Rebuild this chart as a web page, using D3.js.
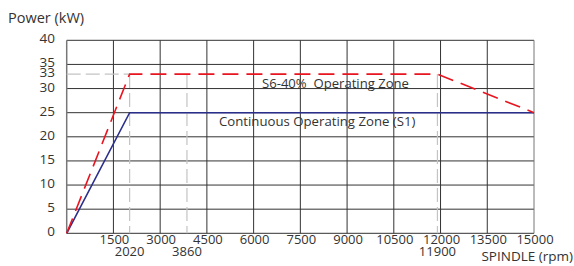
<!DOCTYPE html>
<html><head><meta charset="utf-8">
<script src="https://cdn.jsdelivr.net/npm/d3@7"></script>
<style>body{margin:0;background:#fff}text{font-family:"Open Sans",sans-serif;fill:#333}</style>
</head><body><svg id="c" width="574" height="266"></svg>
<script>
const xTicks = [1500,3000,4500,6000,7500,9000,10500,12000,13500,15000];
const xTicks2 = [2020,3860,11900];
const yTicks = [0,5,10,15,20,25,30,35,40];
const yExtra = [33];
const s6Rpm = [0,2020,11900,15000];
const s6Power = [0,33,33,25];
const s1Rpm = [0,2020,15000];
const s1Power = [0,25,25];
const refRpm = [2020,3860,11900];
const refPower = 33;

const svg = d3.select("#c");
const x = d3.scaleLinear().domain([0,15000]).range([66.7,534]);
const y = d3.scaleLinear().domain([0,40]).range([233.3,40.3]);
const grid = "#333";

svg.append("g").selectAll("line").data(yTicks).join("line")
  .attr("x1",x(0)).attr("x2",x(15000)).attr("y1",d=>y(d)).attr("y2",d=>y(d))
  .attr("stroke",grid).attr("stroke-width",1);
svg.append("g").selectAll("line").data([0,...xTicks]).join("line")
  .attr("x1",d=>x(d)).attr("x2",d=>x(d)).attr("y1",y(0)).attr("y2",y(40))
  .attr("stroke",d=>d===0||d===15000?"#777":grid).attr("stroke-width",d=>d===0?1.5:1);

const ref = svg.append("g").attr("stroke","#c4c4c4").attr("stroke-width",1.2).attr("stroke-dasharray","14,5").attr("fill","none");
ref.append("line").attr("x1",x(0)).attr("x2",x(refRpm[0])).attr("y1",y(refPower)).attr("y2",y(refPower));
ref.selectAll(".v").data(refRpm).join("line").attr("class","v")
  .attr("x1",d=>x(d)).attr("x2",d=>x(d)).attr("y1",y(refPower)).attr("y2",y(0));

const line = d3.line().x(d=>x(d[0])).y(d=>y(d[1]));
svg.append("path").datum(s1Rpm.map((r,i)=>[r,s1Power[i]])).attr("d",line)
  .attr("fill","none").attr("stroke","#2b2f8c").attr("stroke-width",1.6);
svg.append("path").datum(s6Rpm.map((r,i)=>[r,s6Power[i]])).attr("d",line)
  .attr("fill","none").attr("stroke","#e8141f").attr("stroke-width",1.6).attr("stroke-dasharray","16,8");

svg.append("g").selectAll("text").data([...yTicks,...yExtra]).join("text")
  .attr("x",55).attr("y",d=>y(d)+3).attr("text-anchor","end").attr("font-size",13.5).text(d=>d);
svg.append("g").selectAll("text").data(xTicks).join("text")
  .attr("x",d=>x(d)+1).attr("y",244).attr("text-anchor","middle").attr("font-size",13).text(d=>d);
svg.append("g").selectAll("text").data(xTicks2).join("text")
  .attr("x",d=>x(d)).attr("y",255.5).attr("text-anchor","middle").attr("font-size",13).text(d=>d);

svg.append("text").attr("x",8).attr("y",23).attr("font-size",14.5).text("Power (kW)");
svg.append("text").attr("x",573).attr("y",261).attr("text-anchor","end").attr("font-size",13.5).text("SPINDLE (rpm)");
svg.append("text").attr("x",262).attr("y",88).attr("font-size",13.1).attr("xml:space","preserve").style("white-space","pre").text("S6-40%  Operating Zone");
svg.append("text").attr("x",219).attr("y",126).attr("font-size",13.2).text("Continuous Operating Zone (S1)");
</script></body></html>
